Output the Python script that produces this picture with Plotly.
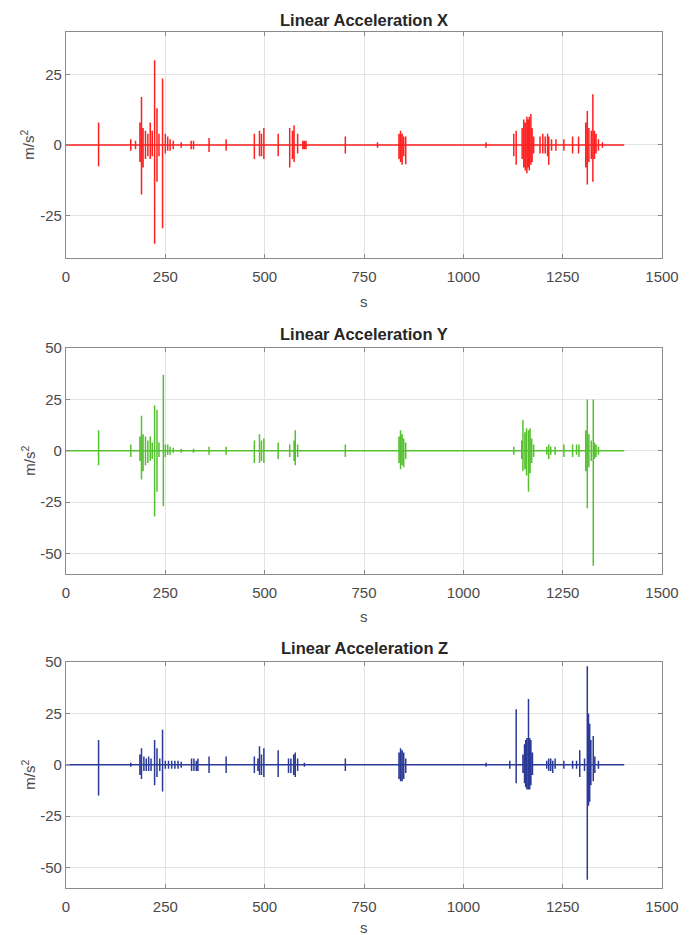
import plotly.graph_objects as go

# ---------------- data ----------------
END_TIME = 1405

# Linear Acceleration X : event time (s), positive peak, negative peak
x_t  = [82, 163, 175, 186, 190, 194, 200, 206, 212, 217, 223, 229, 234, 243, 250, 256, 262, 270, 290, 315, 321,
        360, 403, 474, 487, 492, 498, 534, 563, 570, 574, 583, 596, 600, 604, 703, 784, 838, 842, 846, 850, 855,
        1057, 1127, 1133, 1148, 1152, 1156, 1160, 1163, 1166, 1170, 1173, 1177, 1193, 1200, 1206, 1212, 1215,
        1222, 1233, 1253, 1275, 1290, 1308, 1312, 1316, 1322, 1326, 1330, 1334, 1340, 1350]
x_hi = [8, 2, 1.5, 8, 17, 6, 5, 4, 8, 5, 30, 13, 4, 23.5, 4, 3, 2, 1.5, 1, 1.5, 1.5,
        2.5, 2, 4, 5, 4, 6, 4, 6, 5, 7, 4, 1.5, 1.5, 1.5, 3, 1, 4, 5, 4, 3, 3,
        1, 4, 5, 6, 9, 8, 10, 9, 10, 11, 6, 3, 3, 4, 3, 4, 3,
        2, 2, 2, 3, 3, 8, 12, 6, 5, 18, 5, 4, 2, 1]
x_lo = [-7.5, -2, -1.5, -6, -17.5, -8, -5, -4, -5, -4, -35, -13, -4, -29.5, -3, -2, -2, -1.5, -1, -1.5, -1.5,
        -2.5, -2, -5, -4, -4, -5, -4, -8, -5, -6, -3, -1.5, -1.5, -1.5, -3, -1, -5, -6, -7, -4, -6.8,
        -1, -4, -7, -5, -8, -9, -10, -8, -9, -7, -6, -3, -3, -3, -3, -4, -7,
        -2, -2, -2, -3, -3, -8, -14, -6, -5, -13, -5, -3, -2, -1]

# Linear Acceleration Y
y_t  = [82, 163, 186, 190, 194, 200, 206, 212, 217, 223, 229, 234, 245, 250, 256, 262, 270, 290, 321, 360, 403,
        474, 487, 492, 498, 534, 563, 574, 577, 583, 703, 838, 842, 846, 850, 855,
        1127, 1147, 1150, 1155, 1159, 1164, 1168, 1172, 1177, 1210, 1215, 1220, 1231, 1253, 1275, 1285, 1291,
        1308, 1312, 1316, 1322, 1327, 1330, 1334, 1340]
y_hi = [10, 3, 7, 17, 8, 7, 5, 7, 4, 22, 20, 4, 37, 3, 3, 2, 1.5, 1, 1, 2, 2,
        5, 8, 5, 6, 4, 3, 5, 10, 3, 3, 7, 10, 8, 6, 4,
        2, 5, 15, 9, 11, 10, 11, 6, 3, 2, 3, 2, 2, 3, 3, 3, 3,
        10, 25, 8, 5, 25, 4, 3, 2]
y_lo = [-7, -3, -5, -14, -10, -7, -6, -5, -4, -32, -20, -3, -27, -3, -2, -2, -1, -1, -1, -2, -2,
        -6, -6, -5, -6, -4, -3, -5, -7, -3, -3, -6, -9, -7, -8, -4,
        -2, -4, -10, -9, -12, -20, -11, -6, -3, -2, -4, -2, -2, -3, -3, -2, -3,
        -10, -28, -8, -5, -56, -4, -3, -2]

# Linear Acceleration Z
z_t  = [82, 163, 186, 190, 196, 202, 208, 214, 223, 229, 236, 243, 250, 258, 266, 274, 282, 290, 316, 322, 328,
        332, 360, 403, 474, 483, 487, 492, 498, 534, 560, 566, 573, 577, 583, 600, 703, 838, 842, 846, 850, 855,
        1057, 1117, 1133, 1150, 1154, 1157, 1160, 1164, 1167, 1170, 1174, 1210, 1215, 1220, 1225, 1231, 1253,
        1275, 1285, 1293, 1305, 1312, 1315, 1318, 1321, 1327, 1331, 1340]
z_hi = [12, 1, 5, 8, 4, 3, 4, 3, 12, 8, 3, 17, 2, 2, 2, 2, 2, 1.5, 3, 3, 2,
        3, 4, 4, 4, 3, 9, 5, 8, 7, 3, 3, 5, 6, 3, 1, 3, 6, 8, 7, 6, 3,
        1, 2, 27, 5, 10, 12, 13, 32, 13, 12, 6, 2, 3, 3, 2, 3, 2,
        2, 2, 7, 3, 48, 25, 20, 12, 14, 4, 2]
z_lo = [-15, -1, -5, -7, -3, -3, -3, -3, -10, -6, -3, -13, -2, -2, -2, -2, -2, -1.5, -3, -3, -3,
        -3, -4, -4, -4, -3, -5, -5, -6, -6, -4, -4, -5, -6, -3, -1, -3, -7, -8, -8, -7, -4,
        -1, -2, -9, -4, -9, -11, -12, -12, -12, -10, -5, -2, -3, -3, -4, -2, -2,
        -2, -2, -6, -3, -56, -20, -18, -10, -8, -4, -2]

titles = ["Linear Acceleration X", "Linear Acceleration Y", "Linear Acceleration Z"]
colors = ["#ff2020", "#55c030", "#2b3a97"]
y_ranges = [[-40, 40], [-60, 50], [-60, 50]]
y_ticks = [[-25, 0, 25], [-50, -25, 0, 25, 50], [-50, -25, 0, 25, 50]]
x_ticks = [0, 250, 500, 750, 1000, 1250, 1500]
x_label = "s"
y_label = "m/s<sup>2</sup>"


def build(ts, hi, lo):
    xs, ys = [0], [0]
    for t, h, l in sorted(zip(ts, hi, lo)):
        xs += [t, t, t, t]
        ys += [0, h, l, 0]
    xs.append(END_TIME)
    ys.append(0)
    return xs, ys


series = [(x_t, x_hi, x_lo), (y_t, y_hi, y_lo), (z_t, z_hi, z_lo)]

# ---------------- layout geometry ----------------
W, H = 691, 935
ML, MR, MT, MB = 66, 18, 32, 47
domains = [[0.7360, 1.0], [0.3668, 0.6308], [0.0, 0.2640]]
title_y = [1.014, 0.6472, 0.2804]
s_y = [0.6846, 0.3166, -0.046]

fig = go.Figure()
font_fam = "Liberation Sans, Arial, sans-serif"
axis_col = "#8a8a8a"
grid_col = "#e4e4e4"
tick_font = dict(family=font_fam, size=15, color="#4a4a4a")

for i, (ts, hi, lo) in enumerate(series):
    xs, ys = build(ts, hi, lo)
    sfx = "" if i == 0 else str(i + 1)
    fig.add_trace(go.Scatter(x=xs, y=ys, mode="lines",
                             line=dict(color=colors[i], width=1.5),
                             xaxis="x" + sfx, yaxis="y" + sfx,
                             showlegend=False, hoverinfo="skip"))
    common = dict(showline=True, linecolor=axis_col, linewidth=1.2, mirror="allticks",
                  ticks="inside", ticklen=4, tickcolor=axis_col, tickwidth=1,
                  showgrid=True, gridcolor=grid_col, gridwidth=1, zeroline=False,
                  tickfont=tick_font)
    fig.layout["xaxis" + sfx] = dict(common, domain=[0, 1], range=[0, 1500],
                                     tickvals=x_ticks, ticktext=[str(v) for v in x_ticks],
                                     ticklabelstandoff=5, anchor="y" + sfx)
    fig.layout["yaxis" + sfx] = dict(common, domain=domains[i], range=y_ranges[i],
                                     tickvals=y_ticks[i], ticktext=[str(v) for v in y_ticks[i]],
                                     anchor="x" + sfx)
    mid = (domains[i][0] + domains[i][1]) / 2
    fig.add_annotation(text="<b>" + titles[i] + "</b>", xref="paper", yref="paper",
                       x=0.5, y=title_y[i], showarrow=False, xanchor="center", yanchor="middle",
                       font=dict(family=font_fam, size=16.5, color="#262626"))
    fig.add_annotation(text=x_label, xref="paper", yref="paper", x=0.5, y=s_y[i],
                       showarrow=False, xanchor="center", yanchor="middle",
                       font=dict(family=font_fam, size=15, color="#4a4a4a"))
    fig.add_annotation(text=y_label, xref="paper", yref="paper", x=(27 - ML) / (W - ML - MR), y=mid,
                       textangle=-90, showarrow=False, xanchor="center", yanchor="middle",
                       font=dict(family=font_fam, size=15, color="#4a4a4a"))

fig.update_layout(width=W, height=H, margin=dict(l=ML, r=MR, t=MT, b=MB),
                  paper_bgcolor="white", plot_bgcolor="white", showlegend=False)

fig.write_html("out.html")
